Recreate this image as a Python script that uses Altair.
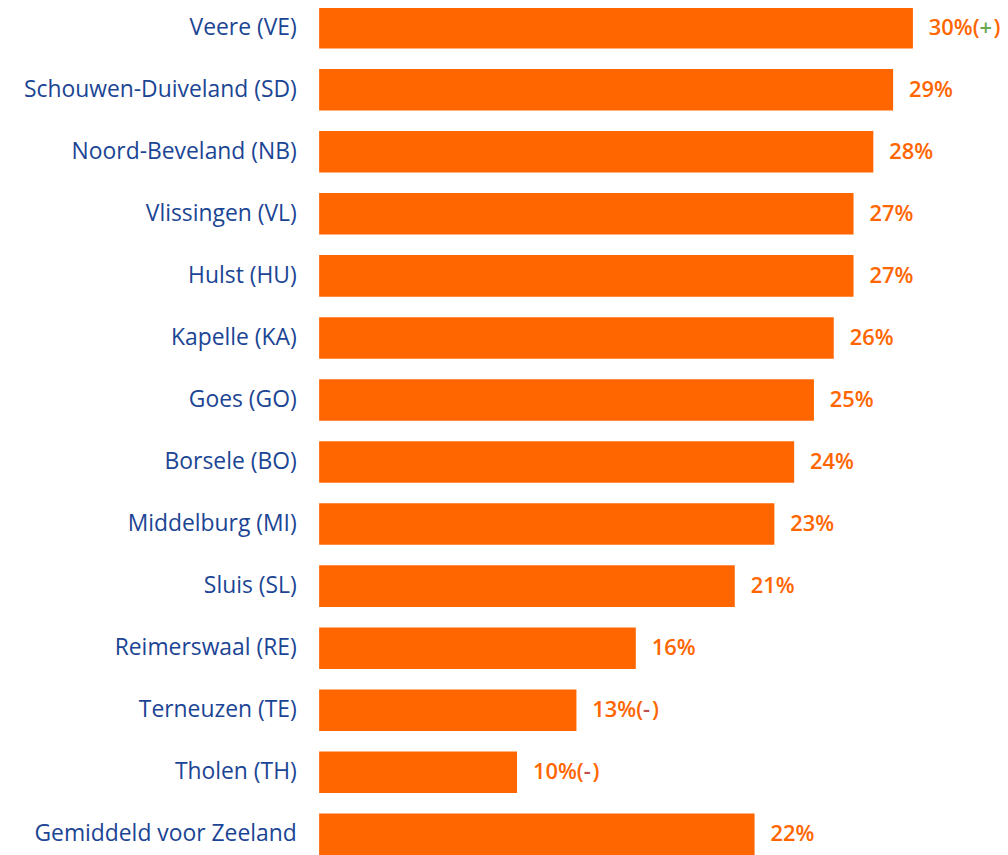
import altair as alt
import pandas as pd

gemeenten = [
    "Veere (VE)", "Schouwen-Duiveland (SD)", "Noord-Beveland (NB)", "Vlissingen (VL)",
    "Hulst (HU)", "Kapelle (KA)", "Goes (GO)", "Borsele (BO)", "Middelburg (MI)",
    "Sluis (SL)", "Reimerswaal (RE)", "Terneuzen (TE)", "Tholen (TH)",
    "Gemiddeld voor Zeeland",
]
waarden = [30, 29, 28, 27, 27, 26, 25, 24, 23, 21, 16, 13, 10, 22]
tekens = ["+", "", "", "", "", "", "", "", "", "", "", "-", "-", ""]

df = pd.DataFrame({"gemeente": gemeenten, "waarde": waarden, "teken": tekens})
df["prefix"] = df.apply(lambda r: f"{r.waarde}%" + ("(" if r.teken else ""), axis=1)
df["sluit"] = df["teken"].apply(lambda t: ")" if t else "")
df["kleur"] = df["teken"].map({"+": "#6aa84f", "-": "#c0504d", "": "#ff6600"})

ORANGE = "#ff6600"
BLUE = "#1b4594"
FONT = "Open Sans"

y = alt.Y(
    "gemeente:N",
    sort=None,
    scale=alt.Scale(range=[-14, 860], paddingInner=0.33, paddingOuter=0.165, round=False),
    axis=alt.Axis(
        title=None, domain=False, ticks=False, labelPadding=23,
        labelFontSize=23, labelColor=BLUE, labelFont=FONT, labelFontWeight="normal",
        labelLimit=400,
    ),
)
x = alt.X("waarde:Q", scale=alt.Scale(domain=[0, 34.4]), axis=None)

base = alt.Chart(df).encode(y=y, x=x)

bars = base.mark_bar(color=ORANGE)

TXT = dict(align="left", baseline="middle", fontSize=22, font=FONT, fontWeight=600)
DX = 16
W1 = 51
txt_prefix = base.mark_text(dx=DX, color=ORANGE, **TXT).encode(text="prefix:N")
txt_sign = base.transform_filter("datum.teken != ''").mark_text(
    dx=DX + W1, **TXT
).encode(text="teken:N", color=alt.Color("kleur:N", scale=None))
txt_close_plus = base.transform_filter("datum.teken == '+'").mark_text(
    dx=DX + W1 + 14, color=ORANGE, **TXT
).encode(text="sluit:N")
txt_close_min = base.transform_filter("datum.teken == '-'").mark_text(
    dx=DX + W1 + 9, color=ORANGE, **TXT
).encode(text="sluit:N")

chart = alt.layer(bars, txt_prefix, txt_sign, txt_close_plus, txt_close_min).properties(
    width=685, height=847,
    autosize=alt.AutoSizeParams(type="none"),
    padding={"left": 313, "top": 0, "right": 0, "bottom": 0},
).configure_view(stroke=None)

chart.save("out.html", embed_options={"renderer": "svg", "actions": False})
